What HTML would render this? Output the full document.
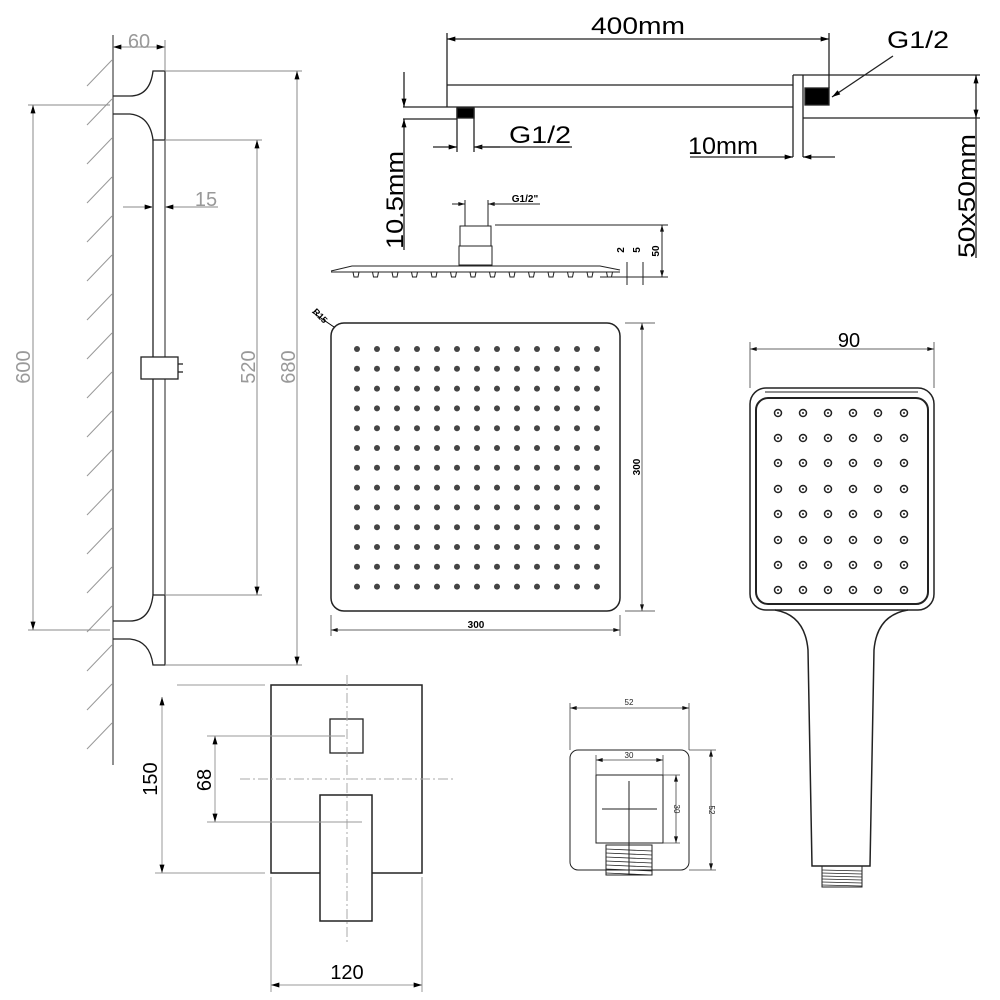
<!DOCTYPE html>
<html><head><meta charset="utf-8"><style>
html,body{margin:0;padding:0;background:#fff}
svg{display:block}
text{font-family:"Liberation Sans","DejaVu Sans",sans-serif}
</style></head><body>
<svg id="s" width="1000" height="1000" viewBox="0 0 1000 1000" xmlns="http://www.w3.org/2000/svg">
<defs>
<marker id="a" viewBox="0 0 10 6" refX="10" refY="3" markerWidth="12" markerHeight="5" orient="auto-start-reverse" markerUnits="userSpaceOnUse"><path d="M0,0L10,3L0,6z" fill="#000"/></marker>
<marker id="g" viewBox="0 0 10 6" refX="10" refY="3" markerWidth="10" markerHeight="4" orient="auto-start-reverse" markerUnits="userSpaceOnUse"><path d="M0,0L10,3L0,6z" fill="#111"/></marker>
</defs>
<g fill="none" stroke="#222" stroke-width="1.3">
<!-- LEFT SLIDE BAR -->
<line x1="113" y1="35" x2="113" y2="765" stroke="#555"/>
<g id="hatch" stroke="#999" stroke-width="1"></g>
<path d="M113,96 H130 Q150,96 153,71 H165 V140 H153 Q150,116 130,114 H113"/>
<path d="M113,621 H130 Q150,621 153,595 H165 V665 H153 Q150,641 130,639 H113"/>
<line x1="153" y1="140" x2="153" y2="595"/>
<line x1="165" y1="140" x2="165" y2="595" stroke="#555"/>
<rect x="141" y="357" width="37" height="22" fill="#fff"/>
<line x1="178" y1="364" x2="183" y2="364"/><line x1="178" y1="372" x2="183" y2="372"/>
<!-- dims left (gray) -->
<g stroke="#888" stroke-width="1">
<line x1="113" y1="47" x2="165" y2="47" marker-start="url(#a)" marker-end="url(#a)"/>
<line x1="165" y1="40" x2="165" y2="71"/>
<line x1="123" y1="207" x2="153" y2="207" marker-end="url(#a)"/>
<line x1="165" y1="207" x2="218" y2="207"/>
<line x1="180" y1="207" x2="165" y2="207" marker-end="url(#a)"/>
<line x1="28" y1="105" x2="110" y2="105"/>
<line x1="28" y1="630" x2="110" y2="630"/>
<line x1="33" y1="105" x2="33" y2="630" marker-start="url(#a)" marker-end="url(#a)"/>
<line x1="165" y1="140" x2="262" y2="140"/>
<line x1="165" y1="595" x2="262" y2="595"/>
<line x1="257" y1="140" x2="257" y2="595" marker-start="url(#a)" marker-end="url(#a)"/>
<line x1="165" y1="71" x2="302" y2="71"/>
<line x1="165" y1="665" x2="302" y2="665"/>
<line x1="297" y1="71" x2="297" y2="665" marker-start="url(#a)" marker-end="url(#a)"/>
</g>
<!-- TOP ARM -->
<line x1="447" y1="85" x2="793" y2="85"/>
<line x1="403" y1="107" x2="793" y2="107"/>
<line x1="403" y1="119" x2="457" y2="119"/>
<line x1="447" y1="33" x2="447" y2="107"/>
<line x1="829" y1="33" x2="829" y2="88"/>
<line x1="447" y1="39" x2="829" y2="39" marker-start="url(#a)" marker-end="url(#a)"/>
<rect x="457" y="108" width="17" height="10" fill="#000"/>
<line x1="457" y1="108" x2="457" y2="152"/><line x1="474" y1="108" x2="474" y2="152"/>
<line x1="433" y1="147" x2="457" y2="147" marker-end="url(#a)"/>
<line x1="500" y1="147" x2="474" y2="147" marker-end="url(#a)"/>
<line x1="474" y1="147" x2="572" y2="147"/>
<line x1="793" y1="75" x2="793" y2="157"/><line x1="803" y1="75" x2="803" y2="157"/>
<line x1="793" y1="75" x2="980" y2="75"/>
<line x1="803" y1="118" x2="980" y2="118"/>
<rect x="805" y="88" width="24" height="17" fill="#000"/>
<line x1="893" y1="56" x2="832" y2="97" marker-end="url(#a)"/>
<line x1="690" y1="157" x2="793" y2="157" marker-end="url(#a)"/>
<line x1="835" y1="157" x2="803" y2="157" marker-end="url(#a)"/>
<line x1="404" y1="72" x2="404" y2="107" marker-end="url(#a)"/>
<line x1="404" y1="250" x2="404" y2="119" marker-end="url(#a)"/>
<line x1="976" y1="75" x2="976" y2="118" marker-start="url(#a)" marker-end="url(#a)"/>
<line x1="976" y1="118" x2="976" y2="258"/>
<!-- RAIN SIDE VIEW -->
<g stroke-width="1">
<path d="M331,271 L352,266 H600 L620,270"/>
<line x1="331" y1="272" x2="620" y2="272"/>
<rect x="460" y="226" width="31" height="20"/>
<rect x="459" y="246" width="33" height="19"/>
<line x1="465" y1="200" x2="465" y2="226"/><line x1="488" y1="200" x2="488" y2="226"/>
<line x1="452" y1="204" x2="465" y2="204" marker-end="url(#g)"/>
<line x1="500" y1="204" x2="488" y2="204" marker-end="url(#g)"/>
<line x1="488" y1="204" x2="540" y2="204"/>
<line x1="495" y1="225" x2="668" y2="225"/>
<line x1="600" y1="277" x2="668" y2="277"/>
<line x1="662" y1="225" x2="662" y2="277" marker-start="url(#g)" marker-end="url(#g)"/>
<line x1="627" y1="262" x2="627" y2="285"/><line x1="643" y1="262" x2="643" y2="285"/>
</g>
<g id="noz" stroke-width="1"></g>
<!-- RAIN TOP VIEW -->
<rect x="331" y="323" width="289" height="288" rx="13" stroke-width="1.5"/>
<g stroke="#666" stroke-width="1">
<line x1="331" y1="615" x2="331" y2="636"/><line x1="620" y1="615" x2="620" y2="636"/>
<line x1="331" y1="630" x2="620" y2="630" marker-start="url(#g)" marker-end="url(#g)"/>
<line x1="625" y1="323" x2="655" y2="323"/><line x1="625" y1="611" x2="655" y2="611"/>
<line x1="642" y1="323" x2="642" y2="611" marker-start="url(#g)" marker-end="url(#g)"/>
<line x1="312" y1="312" x2="334" y2="327" stroke="#000"/>
</g>
<g id="holes" fill="#444" stroke="none"></g>
<!-- HAND SHOWER -->
<g stroke="#666" stroke-width="1">
<line x1="750" y1="342" x2="750" y2="388"/><line x1="934" y1="342" x2="934" y2="388"/>
<line x1="750" y1="349" x2="934" y2="349" marker-start="url(#g)" marker-end="url(#g)"/>
</g>
<rect x="750" y="388" width="184" height="222" rx="16" stroke-width="1.5"/>
<rect x="756" y="398" width="172" height="206" rx="12" stroke-width="2"/>
<line x1="765" y1="392" x2="918" y2="392" stroke-width="1"/>
<path d="M775,610 Q805,615 808,650 L812,866 H870 L874,650 Q877,615 908,610" stroke-width="1.5"/>
<rect x="822" y="866" width="40" height="21" stroke-width="1"/>
<g id="hh"></g>
<!-- MIXER -->
<rect x="271" y="685" width="151" height="188" stroke-width="1.5"/>
<rect x="330" y="719" width="33" height="34" stroke-width="1.3"/>
<rect x="320" y="795" width="52" height="126" fill="#fff" stroke-width="1.5"/>
<g stroke="#aaa" stroke-width="1" stroke-dasharray="10,3,2,3">
<line x1="347" y1="675" x2="347" y2="945"/>
<line x1="240" y1="779" x2="455" y2="779"/>
</g>
<g stroke="#999" stroke-width="1">
<line x1="177" y1="685" x2="265" y2="685"/>
<line x1="155" y1="873" x2="265" y2="873"/>
<line x1="162" y1="697" x2="162" y2="873" marker-start="url(#a)" marker-end="url(#a)"/>
<line x1="207" y1="736" x2="345" y2="736"/>
<line x1="207" y1="822" x2="362" y2="822"/>
<line x1="215" y1="736" x2="215" y2="822" marker-start="url(#a)" marker-end="url(#a)"/>
<line x1="271" y1="877" x2="271" y2="992"/><line x1="422" y1="877" x2="422" y2="992"/>
<line x1="271" y1="985" x2="422" y2="985" marker-start="url(#a)" marker-end="url(#a)"/>
</g>
<!-- ELBOW -->
<rect x="570" y="750" width="119" height="120" rx="8" stroke-width="1"/>
<rect x="596" y="775" width="67" height="68" stroke-width="1"/>
<line x1="629" y1="781" x2="629" y2="875" stroke-width="1"/>
<line x1="602" y1="809" x2="657" y2="809" stroke-width="1"/>
<rect x="606" y="845" width="46" height="30" stroke-width="1"/>
<g id="th" stroke-width="0.8"></g>
<g stroke="#444" stroke-width="0.8">
<line x1="570" y1="703" x2="570" y2="750"/><line x1="689" y1="703" x2="689" y2="750"/>
<line x1="570" y1="708" x2="689" y2="708" marker-start="url(#g)" marker-end="url(#g)"/>
<line x1="596" y1="755" x2="596" y2="775"/><line x1="663" y1="755" x2="663" y2="775"/>
<line x1="596" y1="760" x2="663" y2="760" marker-start="url(#g)" marker-end="url(#g)"/>
<line x1="663" y1="775" x2="680" y2="775"/><line x1="663" y1="843" x2="680" y2="843"/>
<line x1="676" y1="775" x2="676" y2="843" marker-start="url(#g)" marker-end="url(#g)"/>
<line x1="689" y1="750" x2="716" y2="750"/><line x1="689" y1="870" x2="716" y2="870"/>
<line x1="711" y1="750" x2="711" y2="870" marker-start="url(#g)" marker-end="url(#g)"/>
</g>
</g>
<!-- TEXT -->
<g fill="#999" font-size="20">
<text x="139" y="48" text-anchor="middle">60</text>
<text x="206" y="206" text-anchor="middle">15</text>
<text transform="translate(30,367) rotate(-90)" text-anchor="middle">600</text>
<text transform="translate(255,367) rotate(-90)" text-anchor="middle">520</text>
<text transform="translate(295,367) rotate(-90)" text-anchor="middle">680</text>
</g>
<g fill="#000" font-size="24" font-family="'Liberation Sans Narrow','Liberation Sans',sans-serif">
<text x="638" y="34" text-anchor="middle" textLength="94" lengthAdjust="spacingAndGlyphs">400mm</text>
<text x="918" y="48" text-anchor="middle" textLength="62" lengthAdjust="spacingAndGlyphs">G1/2</text>
<text x="540" y="143" text-anchor="middle" textLength="62" lengthAdjust="spacingAndGlyphs">G1/2</text>
<text x="723" y="154" text-anchor="middle" textLength="70" lengthAdjust="spacingAndGlyphs">10mm</text>
<text transform="translate(403,200) rotate(-90)" text-anchor="middle" textLength="98" lengthAdjust="spacingAndGlyphs">10.5mm</text>
<text transform="translate(975,196) rotate(-90)" text-anchor="middle" textLength="124" lengthAdjust="spacingAndGlyphs">50x50mm</text>
</g>
<g fill="#000" font-size="10" font-family="'Liberation Mono',monospace" font-weight="bold">
<text x="525" y="202" text-anchor="middle">G1/2"</text>
<text transform="translate(624,250) rotate(-90)" text-anchor="middle">2</text>
<text transform="translate(640,250) rotate(-90)" text-anchor="middle">5</text>
<text transform="translate(659,251) rotate(-90)" text-anchor="middle">50</text>
<text x="476" y="628" text-anchor="middle">300</text>
<text transform="translate(640,467) rotate(-90)" text-anchor="middle">300</text>
<text transform="translate(318,318) rotate(45)" text-anchor="middle" font-size="9">R15</text>
</g>
<g fill="#000" font-size="20">
<text x="849" y="347" text-anchor="middle">90</text>
<text x="347" y="979" text-anchor="middle">120</text>
<text transform="translate(157,779) rotate(-90)" text-anchor="middle">150</text>
<text transform="translate(211,780) rotate(-90)" text-anchor="middle">68</text>
</g>
<g fill="#222" font-size="8">
<text x="629" y="705" text-anchor="middle">52</text>
<text x="629" y="758" text-anchor="middle">30</text>
<text transform="translate(674,809) rotate(90)" text-anchor="middle">30</text>
<text transform="translate(709,810) rotate(90)" text-anchor="middle">52</text>
</g>
</svg>
<script>
var NS="http://www.w3.org/2000/svg";
function el(p,t,a){var e=document.createElementNS(NS,t);for(var k in a)e.setAttribute(k,a[k]);p.appendChild(e);return e;}
var h=document.getElementById("hatch");
for(var y=60;y<=760;y+=39){el(h,"line",{x1:87,y1:y+26,x2:112,y2:y});}
var ho=document.getElementById("holes");
for(var i=0;i<13;i++)for(var j=0;j<13;j++)el(ho,"circle",{cx:357+i*20,cy:349+j*19.8,r:3});
var nz=document.getElementById("noz");
for(var i=0;i<14;i++){var x=356+i*19.5;el(nz,"path",{d:"M"+(x-3)+",272 L"+(x-2)+",277 H"+(x+2)+" L"+(x+3)+",272"});}
var hh=document.getElementById("hh");
var xs=[778,803,828,853,878,904],ys=[413,438,463,489,514,540,565,590];
xs.forEach(function(x){ys.forEach(function(y){el(hh,"circle",{cx:x,cy:y,r:3.5,"stroke-width":1.5});el(hh,"circle",{cx:x,cy:y,r:1,fill:"#222","stroke-width":0});});});
var th=document.getElementById("th");
for(var y=849;y<875;y+=4)el(th,"line",{x1:606,y1:y,x2:652,y2:y+2});
for(var y=870;y<886;y+=3)el(hh,"line",{x1:822,y1:y,x2:862,y2:y+1,"stroke-width":0.8});
</script>
</body></html>
